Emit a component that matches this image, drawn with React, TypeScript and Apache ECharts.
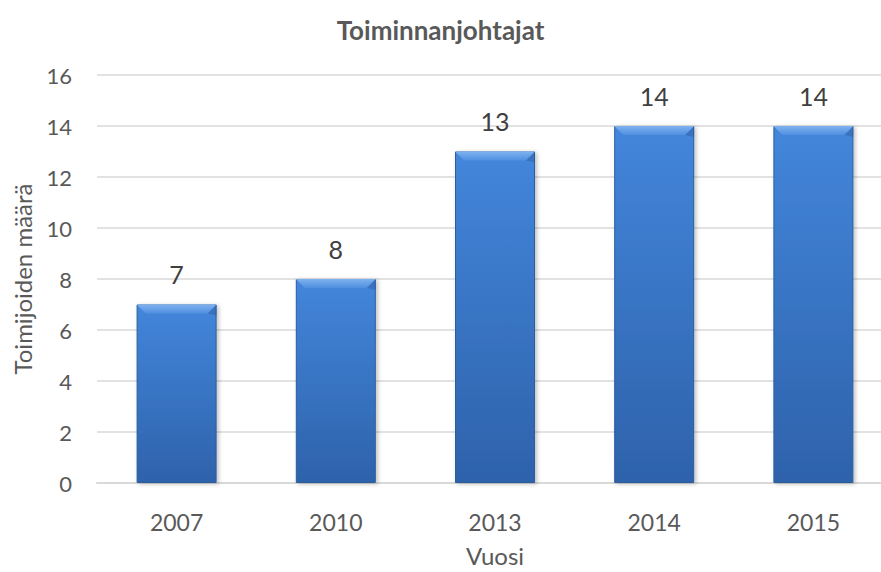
import React, { useEffect, useRef } from "react";
import * as echarts from "echarts";

const categories = ["2007", "2010", "2013", "2014", "2015"];
const values = [7, 8, 13, 14, 14];
const yTicks = { min: 0, max: 16, interval: 2 };
const titleText = "Toiminnanjohtajat";
const xName = "Vuosi";
const yName = "Toimijoiden määrä";

const FONT = "Lato, 'Open Sans', sans-serif";
const TEXT = "#595959";

export default function App() {
  const ref = useRef<HTMLDivElement>(null);
  useEffect(() => {
    if (!ref.current) return;
    const chart = echarts.init(ref.current, undefined, { renderer: "svg" });
    const BAR_W = 80;
    const BEVEL = 9;
    chart.setOption({
      animation: false,
      backgroundColor: "#ffffff",
      title: {
        text: titleText,
        left: "center",
        top: 12,
        textStyle: { fontFamily: FONT, fontSize: 26, fontWeight: "bold", color: TEXT },
      },
      grid: {
        left: 97,
        top: 75,
        width: 796,
        height: 408,
        containLabel: false,
        outerBoundsMode: "none",
      },
      xAxis: {
        type: "category",
        data: categories,
        name: xName,
        nameLocation: "middle",
        nameGap: 60,
        nameTextStyle: { fontFamily: FONT, fontSize: 24, color: TEXT },
        axisLine: { show: true, lineStyle: { color: "#d9d9d9", width: 2 } },
        axisTick: { show: false },
        axisLabel: { fontFamily: FONT, fontSize: 23, color: TEXT, margin: 27 },
      },
      yAxis: {
        type: "value",
        min: yTicks.min,
        max: yTicks.max,
        interval: yTicks.interval,
        name: yName,
        nameLocation: "middle",
        nameGap: 63,
        nameTextStyle: { fontFamily: FONT, fontSize: 24, color: TEXT },
        axisLine: { show: false },
        axisTick: { show: false },
        axisLabel: { fontFamily: FONT, fontSize: 22, color: TEXT, margin: 25 },
        splitLine: { lineStyle: { color: "#d9d9d9", width: 1.5 } },
      },
      series: [
        {
          type: "bar",
          data: values,
          barWidth: BAR_W,
          itemStyle: {
            color: new echarts.graphic.LinearGradient(0, 0, 0, 1, [
              { offset: 0, color: "#4386db" },
              { offset: 1, color: "#2e62ab" },
            ]),
            borderColor: "#2c5e9f",
            borderWidth: 1,
            shadowColor: "rgba(0,0,0,0.25)",
            shadowBlur: 4,
            shadowOffsetX: 2,
            shadowOffsetY: 1,
          },
          label: {
            show: true,
            position: "top",
            distance: 18,
            fontFamily: FONT,
            fontSize: 25,
            color: "#404040",
          },
          z: 2,
        },
        {
          type: "custom",
          data: values.map((v, i) => [i, v]),
          z: 3,
          silent: true,
          renderItem: (params: any, api: any) => {
            const top = api.coord([api.value(0), api.value(1)]);
            const x0 = top[0] - BAR_W / 2;
            const x1 = top[0] + BAR_W / 2;
            const y = top[1];
            return {
              type: "group",
              children: [
                {
                  type: "polygon",
                  shape: {
                    points: [
                      [x0, y],
                      [x1, y],
                      [x1 - BEVEL, y + BEVEL],
                      [x0 + BEVEL, y + BEVEL],
                    ],
                  },
                  style: {
                    fill: new echarts.graphic.LinearGradient(0, 0, 0, 1, [
                      { offset: 0, color: "#7fb2ef" },
                      { offset: 1, color: "#4f8fe0" },
                    ]),
                  },
                },
                {
                  type: "polygon",
                  shape: {
                    points: [
                      [x1, y],
                      [x1, y + BEVEL + 2],
                      [x1 - BEVEL, y + BEVEL],
                    ],
                  },
                  style: { fill: "rgba(40,80,140,0.35)" },
                },
              ],
            };
          },
        },
      ],
    });
    return () => chart.dispose();
  }, []);
  return (
    <div
      ref={ref}
      style={{ position: "fixed", left: 0, top: 0, width: 881, height: 572 }}
    />
  );
}
